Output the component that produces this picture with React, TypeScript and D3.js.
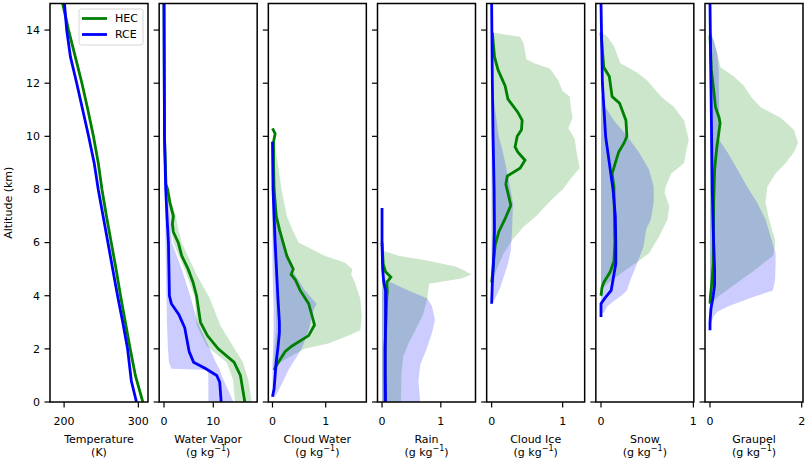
import React from 'react';
import * as d3 from 'd3';

type Pt = [number, number];          // [altitude km, value]
type Band = [number, number, number]; // [altitude km, low, high]

const altitudeTicks = [0, 2, 4, 6, 8, 10, 12, 14];

// Temperature (K)
const tempHEC: Pt[] = [[0, 306], [1, 296], [2, 289], [3, 282.5], [4, 276], [5, 270], [6, 263.5], [7, 257], [8, 251], [9, 246], [10, 239.5], [11, 232], [12, 224], [13, 215], [14, 206], [15, 198]];
const tempRCE: Pt[] = [[0, 297.5], [0.8, 290.5], [2, 285.5], [3, 279], [4, 272], [5, 265.5], [6, 259], [7, 252.5], [8, 246], [9, 240.5], [10, 233], [11, 225], [12, 217], [13, 208.5], [14, 203.5], [15, 200.5]];

// Water vapor (g/kg)
const vaporHEC: Pt[] = [[0, 16.4], [1, 15.5], [1.5, 14.2], [2, 11], [2.5, 8.8], [3, 7.4], [3.5, 7.0], [4, 6.6], [4.5, 5.9], [5, 4.9], [5.5, 3.6], [6, 2.9], [6.4, 1.9], [6.7, 1.7], [7, 1.9], [7.5, 1.2], [8, 0.75], [8.2, 0.4], [10, 0.1], [15, 0]];
const vaporRCE: Pt[] = [[0, 11.6], [0.75, 11.3], [1, 10.7], [1.25, 8.5], [1.5, 6.0], [1.9, 5.1], [2.4, 4.6], [2.8, 4.2], [3.3, 3.0], [3.7, 1.5], [4, 1.1], [5, 1.0], [6, 0.9], [7, 0.6], [8, 0.35], [10, 0.1], [15, 0]];
const vaporHECBand: Band[] = [[0, 14.4, 17.8], [0.84, 14, 17.1], [1.5, 12.7, 16], [2.1, 8.7, 14], [2.9, 6.6, 11.4], [3.9, 6.3, 9.3], [4.8, 4.6, 6.6], [6, 1.9, 3.6], [6.5, 1.5, 2.9], [7, 1.4, 2.4], [7.5, 0.9, 1.6], [8.2, 0.3, 0.6]];
const vaporRCEBand: Band[] = [[0, 9.0, 14.1], [1, 9.0, 11.7], [1.2, 8.8, 11.3], [1.25, 1.5, 11.2], [1.5, 1.0, 10.5], [2, 0.8, 9.3], [3, 0.6, 6.8], [4, 0.5, 5.3], [5, 0.4, 3.6], [6, 0.3, 1.6], [7, 0.25, 1.3], [8, 0.2, 0.5]];

// Cloud water (g/kg)
const cloudWaterHEC: Pt[] = [[1.2, 0.03], [1.4, 0.08], [1.9, 0.24], [2.1, 0.36], [2.5, 0.68], [2.9, 0.79], [3.2, 0.75], [3.7, 0.68], [4.2, 0.52], [4.6, 0.43], [4.8, 0.35], [5, 0.39], [5.5, 0.27], [6, 0.2], [6.5, 0.13], [7, 0.07], [8, 0.03], [9, 0.02], [9.8, 0.02], [10.1, 0.05], [10.3, 0.0]];
const cloudWaterRCE: Pt[] = [[0.2, 0.0], [0.5, 0.03], [1, 0.05], [1.5, 0.07], [2, 0.1], [2.6, 0.13], [3, 0.13], [4, 0.1], [6, 0.05], [8, 0.01], [9.8, 0]];
const cloudWaterHECBand: Band[] = [[1.2, 0.01, 0.05], [1.5, 0.02, 0.15], [2, 0.04, 0.6], [2.2, 0.05, 1.05], [2.5, 0.06, 1.43], [2.7, 0.07, 1.65], [3.2, 0.07, 1.68], [3.9, 0.06, 1.65], [4.5, 0.05, 1.55], [4.8, 0.04, 1.48], [5, 0.04, 1.5], [5.25, 0.03, 1.36], [5.5, 0.02, 0.99], [6, 0.01, 0.49], [6.5, 0, 0.37], [7, 0, 0.27], [8, 0, 0.17], [9, 0, 0.1], [9.8, 0, 0.03]];
const cloudWaterRCEBand: Band[] = [[0.2, 0, 0.05], [0.7, 0, 0.18], [1.2, 0, 0.3], [1.5, 0, 0.39], [2, 0.01, 0.55], [2.7, 0.02, 0.68], [3.45, 0.02, 0.77], [3.7, 0.02, 0.83], [4.2, 0.01, 0.61], [5, 0, 0.36], [6, 0, 0.21], [7, 0, 0.1], [8.5, 0, 0.03]];

// Rain (g/kg)
const rainHEC: Pt[] = [[0, 0.05], [2, 0.05], [3.9, 0.08], [4.2, 0.09], [4.5, 0.08], [4.7, 0.15], [4.9, 0.06], [5.2, 0.02], [6, 0]];
const rainRCE: Pt[] = [[0, 0.06], [1, 0.055], [2, 0.055], [3, 0.06], [4.2, 0.06], [4.5, 0.03], [5, 0.01], [6, 0], [7.3, 0]];
const rainHECBand: Band[] = [[0, 0, 0.32], [1, 0, 0.33], [1.7, 0, 0.36], [2.2, 0, 0.45], [2.8, 0, 0.59], [3.3, 0, 0.7], [3.9, 0, 0.77], [4.45, 0, 0.8], [4.65, 0, 1.35], [4.8, 0, 1.52], [4.95, 0, 1.4], [5.1, 0, 1.25], [5.35, 0, 0.7], [5.5, 0, 0.3], [5.7, 0, 0]];
const rainRCEBand: Band[] = [[0, 0, 0.65], [0.8, 0, 0.62], [1.4, 0, 0.65], [2, 0, 0.76], [2.6, 0, 0.85], [3.1, 0, 0.9], [3.6, 0, 0.85], [3.9, 0, 0.77], [4.2, 0, 0.45], [4.6, 0.02, 0.05]];

// Cloud ice (g/kg)
const iceHEC: Pt[] = [[4.5, 0.0], [5, 0.02], [5.4, 0.03], [5.9, 0.05], [6.4, 0.1], [6.9, 0.19], [7.4, 0.27], [7.75, 0.24], [8.2, 0.2], [8.5, 0.22], [8.8, 0.4], [9.1, 0.47], [9.4, 0.37], [9.6, 0.33], [10, 0.36], [10.25, 0.42], [10.6, 0.43], [10.9, 0.37], [11.4, 0.23], [11.9, 0.19], [12.5, 0.09], [13, 0.04], [13.9, 0.01]];
const iceRCE: Pt[] = [[3.7, 0], [4.5, 0.01], [5.5, 0.03], [6.5, 0.04], [8, 0.035], [10, 0.02], [12, 0.01], [15, 0]];
const iceHECBand: Band[] = [[4.5, 0, 0.02], [5, 0, 0.07], [5.6, 0, 0.17], [6.1, 0, 0.29], [6.6, 0, 0.45], [7, 0, 0.63], [7.6, 0, 0.84], [8, 0, 1.0], [8.5, 0, 1.14], [8.8, 0, 1.24], [9.5, 0, 1.19], [9.9, 0, 1.17], [10.3, 0, 1.08], [10.7, 0, 1.14], [11, 0, 1.12], [11.5, 0, 1.1], [11.7, 0, 1.0], [12.1, 0, 0.94], [12.55, 0, 0.82], [12.75, 0, 0.6], [12.9, 0, 0.49], [13.5, 0, 0.45], [13.75, 0, 0.4], [13.9, 0, 0.03]];
const iceRCEBand: Band[] = [[3.7, 0, 0.01], [3.9, 0, 0.05], [4.3, 0, 0.12], [5.2, 0, 0.23], [5.7, 0, 0.27], [6.6, 0, 0.29], [7.5, 0, 0.3], [8.1, 0, 0.26], [9.4, 0, 0.16], [10, 0, 0.1], [11, 0, 0.05], [12, 0, 0.01]];

// Snow (g/kg)
const snowHEC: Pt[] = [[4.0, 0], [4.3, 0.01], [4.5, 0.03], [4.9, 0.1], [5.3, 0.14], [6, 0.15], [7, 0.145], [8.1, 0.14], [8.6, 0.12], [9.4, 0.19], [9.75, 0.25], [10, 0.28], [10.6, 0.27], [11.25, 0.2], [11.5, 0.12], [12.25, 0.09], [12.6, 0.03], [13.9, 0]];
const snowRCE: Pt[] = [[3.2, 0], [3.7, 0], [3.9, 0.04], [4.2, 0.11], [4.8, 0.14], [5.2, 0.16], [6, 0.16], [7, 0.155], [8, 0.13], [8.75, 0.1], [10, 0.05], [12, 0.015], [15, 0]];
const snowHECBand: Band[] = [[4.3, 0, 0.02], [4.6, 0, 0.12], [5, 0, 0.28], [5.36, 0, 0.43], [5.6, 0, 0.52], [6.24, 0, 0.63], [6.87, 0, 0.72], [7.37, 0, 0.74], [7.87, 0, 0.69], [8.1, 0, 0.7], [8.6, 0, 0.76], [9, 0, 0.9], [9.4, 0, 0.92], [9.87, 0, 0.95], [10.6, 0, 0.9], [11.1, 0, 0.79], [11.5, 0, 0.65], [12.1, 0, 0.5], [12.4, 0, 0.39], [12.75, 0, 0.21], [13.4, 0, 0.14], [13.75, 0, 0.07], [13.9, 0, 0.01]];
const snowRCEBand: Band[] = [[3.36, 0, 0.03], [3.6, 0, 0.07], [3.8, 0, 0.14], [4.0, 0, 0.22], [4.2, 0, 0.28], [4.7, 0, 0.33], [5.2, 0, 0.39], [5.85, 0, 0.46], [6.5, 0, 0.49], [6.87, 0, 0.54], [7.5, 0, 0.57], [8.1, 0, 0.57], [8.75, 0, 0.52], [9.4, 0, 0.41], [10, 0, 0.285], [10.6, 0, 0.14], [11.25, 0, 0.02], [11.5, 0, 0.01]];

// Graupel (g/kg)
const graupelHEC: Pt[] = [[3.7, 0], [4.0, 0.01], [4.5, 0.04], [5.2, 0.07], [6, 0.075], [7.5, 0.08], [8.75, 0.1], [9.6, 0.15], [10.1, 0.19], [10.5, 0.22], [10.7, 0.2], [11.1, 0.12], [11.9, 0.07], [12.5, 0.03], [13.8, 0]];
const graupelRCE: Pt[] = [[2.7, 0], [3, 0], [3.5, 0.02], [4, 0.07], [4.4, 0.1], [5, 0.1], [6.5, 0.07], [8, 0.05], [10, 0.035], [12, 0.02], [15, 0]];
const graupelHECBand: Band[] = [[3.7, 0, 0.02], [4.0, 0, 0.2], [4.5, 0, 0.6], [5.0, 0, 1.0], [5.5, 0, 1.37], [5.86, 0, 1.42], [6.1, 0, 1.42], [6.5, 0, 1.35], [6.87, 0, 1.29], [7.5, 0, 1.21], [8.1, 0, 1.25], [8.6, 0, 1.43], [9.0, 0, 1.65], [9.4, 0, 1.83], [9.75, 0, 1.92], [10.25, 0, 1.83], [10.7, 0, 1.54], [11.1, 0, 1.1], [11.5, 0, 0.89], [11.9, 0, 0.74], [12.25, 0, 0.52], [12.6, 0, 0.23], [13.1, 0, 0.16], [13.6, 0, 0.09], [13.8, 0, 0.02]];
const graupelRCEBand: Band[] = [[2.9, 0, 0.02], [3.2, 0, 0.07], [3.4, 0, 0.16], [3.6, 0, 0.4], [3.95, 0, 0.94], [4.2, 0, 1.37], [4.6, 0, 1.42], [5.2, 0, 1.43], [5.6, 0, 1.43], [6.24, 0, 1.32], [6.87, 0, 1.21], [7.5, 0, 1.03], [8.1, 0, 0.81], [8.75, 0, 0.6], [9.4, 0, 0.38], [9.87, 0, 0.2], [11.1, 0, 0.2], [12.5, 0, 0.19], [13.1, 0, 0.16], [13.9, 0, 0.03]];

const panelNames = ['Temperature', 'Water Vapor', 'Cloud Water', 'Rain', 'Cloud Ice', 'Snow', 'Graupel'];
const xDomains: [number, number][] = [[181, 313], [-0.98, 18.9], [-0.078, 1.764], [-0.077, 1.59], [-0.07, 1.31], [-0.056, 1.005], [-0.109, 2.028]];
const xTicks = [[200, 300], [0, 10], [0, 1], [0, 1], [0, 1], [0, 1], [0, 2]];
const hecLines = [tempHEC, vaporHEC, cloudWaterHEC, rainHEC, iceHEC, snowHEC, graupelHEC];
const rceLines = [tempRCE, vaporRCE, cloudWaterRCE, rainRCE, iceRCE, snowRCE, graupelRCE];
const hecBands: (Band[] | null)[] = [null, vaporHECBand, cloudWaterHECBand, rainHECBand, iceHECBand, snowHECBand, graupelHECBand];
const rceBands: (Band[] | null)[] = [null, vaporRCEBand, cloudWaterRCEBand, rainRCEBand, iceRCEBand, snowRCEBand, graupelRCEBand];

const FONT = "'DejaVu Sans', sans-serif";
const TICK = 5.5;

export default function App() {
  const width = 809, height = 461;
  const y = d3.scaleLinear().domain([0, 15]).range([402, 3.5]);
  const panelScale = d3.scaleBand<string>().domain(panelNames).range([50, 803]).paddingInner(0.1023);
  const pw = panelScale.bandwidth();
  const [y0, y1] = y.range();

  return (
    <svg width={width} height={height} style={{ position: 'absolute', left: 0, top: 0, background: '#fff' }} fontFamily={FONT}>
      <defs>
        {panelNames.map((name, i) => (
          <clipPath id={`clip${i}`} key={name}>
            <rect x={panelScale(name)!} y={y1} width={pw} height={y0 - y1} />
          </clipPath>
        ))}
      </defs>

      {panelNames.map((name, i) => {
        const left = panelScale(name)!;
        const x = d3.scaleLinear().domain(xDomains[i]).range([left, left + pw]);
        const line = d3.line<Pt>().x(d => x(d[1])).y(d => y(d[0]));
        const area = d3.area<Band>().y(d => y(d[0])).x0(d => x(d[1])).x1(d => x(d[2]));
        const hb = hecBands[i], rb = rceBands[i];
        return (
          <g key={name}>
            <g clipPath={`url(#clip${i})`}>
              {hb && <path d={area(hb)!} fill="green" fillOpacity={0.2} />}
              {rb && <path d={area(rb)!} fill="blue" fillOpacity={0.2} />}
              <path d={line(hecLines[i])!} fill="none" stroke="#008000" strokeWidth={2.8} />
              <path d={line(rceLines[i])!} fill="none" stroke="#0000ff" strokeWidth={2.8} />
            </g>
            <rect x={left} y={y1} width={pw} height={y0 - y1} fill="none" stroke="#000" strokeWidth={1.5} />
            {altitudeTicks.map(t => (
              <g key={t}>
                <line x1={left - TICK} x2={left} y1={y(t)} y2={y(t)} stroke="#000" strokeWidth={1.2} />
                {i === 0 && (
                  <text x={left - TICK - 4.5} y={y(t)} dy="0.35em" textAnchor="end" fontSize={11} fill="#000">{t}</text>
                )}
              </g>
            ))}
            {xTicks[i].map(t => (
              <g key={t}>
                <line x1={x(t)} x2={x(t)} y1={y0} y2={y0 + TICK} stroke="#000" strokeWidth={1.2} />
                <text x={x(t)} y={y0 + 22.5} textAnchor="middle" fontSize={11} fill="#000">{t}</text>
              </g>
            ))}
            <text x={left + pw / 2} y={442.5} textAnchor="middle" fontSize={11} fill="#000">{name}</text>
            {i === 0 ? (
              <text x={left + pw / 2} y={455.5} textAnchor="middle" fontSize={11} fill="#000">(K)</text>
            ) : (
              <text x={left + pw / 2} y={455.5} textAnchor="middle" fontSize={11} fill="#000">
                <tspan>(g kg</tspan>
                <tspan dy={-4.5} fontSize={8}>−1</tspan>
                <tspan dy={4.5}>)</tspan>
              </text>
            )}
          </g>
        );
      })}

      <text transform={`translate(12,${(y0 + y1) / 2}) rotate(-90)`} textAnchor="middle" fontSize={11} fill="#000">Altitude (km)</text>

      <g transform="translate(79,9)">
        <rect x={0} y={0} width={64} height={36} rx={2.5} fill="#fff" fillOpacity={0.8} stroke="#cccccc" strokeWidth={0.8} />
        <line x1={3} x2={28} y1={9.5} y2={9.5} stroke="#008000" strokeWidth={2.8} />
        <text x={36} y={9.5} dy="0.35em" fontSize={11} fill="#000">HEC</text>
        <line x1={3} x2={28} y1={25.5} y2={25.5} stroke="#0000ff" strokeWidth={2.8} />
        <text x={36} y={25.5} dy="0.35em" fontSize={11} fill="#000">RCE</text>
      </g>
    </svg>
  );
}
